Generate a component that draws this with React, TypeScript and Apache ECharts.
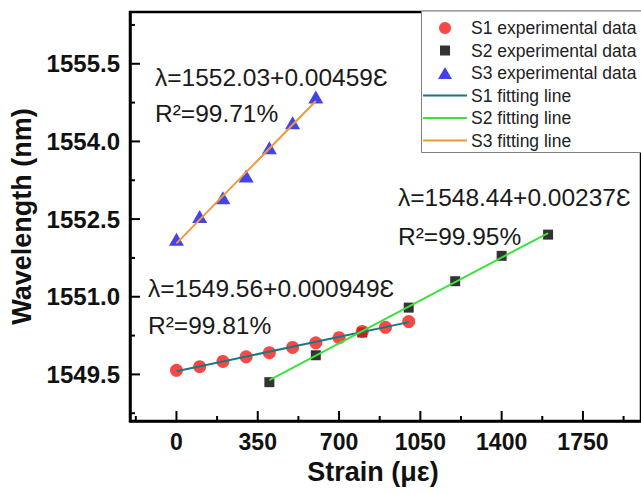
import React, { useEffect, useRef } from "react";
import * as echarts from "echarts";

// ---- data ----
const s1Strain = [0, 100, 200, 300, 400, 500, 600, 700, 800, 900, 1000];
const s1Wave = [1549.58, 1549.65, 1549.75, 1549.84, 1549.92, 1550.02, 1550.11, 1550.21, 1550.33, 1550.41, 1550.52];

const s2Strain = [400, 600, 800, 1000, 1200, 1400, 1600];
const s2Wave = [1549.35, 1549.87, 1550.31, 1550.79, 1551.30, 1551.79, 1552.20];

const s3Strain = [0, 100, 200, 300, 400, 500, 600];
const s3Wave = [1552.11, 1552.55, 1552.91, 1553.33, 1553.88, 1554.36, 1554.86];

const s1FitStrain = [0, 1000];
const s1FitWave = [1549.56, 1550.51];
const s2FitStrain = [400, 1600];
const s2FitWave = [1549.39, 1552.23];
const s3FitStrain = [0, 600];
const s3FitWave = [1552.03, 1554.78];

// tick labels / tick positions
const xTickLabels = [0, 350, 700, 1050, 1400, 1750];
const xMinorTicks = [-175, 175, 525, 875, 1225, 1575, 1925];
const yTickLabels = [1549.5, 1551.0, 1552.5, 1554.0, 1555.5];
const yMinorTicks = [1548.75, 1550.25, 1551.75, 1553.25, 1554.75, 1556.25];

const seriesNames = [
  "S1 experimental data",
  "S2 experimental data",
  "S3 experimental data",
  "S1 fitting line",
  "S2 fitting line",
  "S3 fitting line",
];

const annotations = [
  { text: "λ=1552.03+0.00459Ɛ", left: 155, top: 65 },
  { text: "R²=99.71%", left: 155, top: 101 },
  { text: "λ=1548.44+0.00237Ɛ", left: 398, top: 185 },
  { text: "R²=99.95%", left: 398, top: 224 },
  { text: "λ=1549.56+0.000949Ɛ", left: 148, top: 276 },
  { text: "R²=99.81%", left: 148, top: 313 },
];

const zip = (xs: number[], ys: number[]) => xs.map((x, i) => [x, ys[i]]);

const FONT = "Liberation Sans, Arial, sans-serif";
const X_MIN = -200;
const X_MAX = 2000;
const Y_MIN = 1548.6;
const Y_MAX = 1556.5;

export default function App() {
  const ref = useRef<HTMLDivElement>(null);

  useEffect(() => {
    const chart = echarts.init(ref.current!, null, { renderer: "svg" });

    const textEls = annotations.map((a) => ({
      type: "text",
      left: a.left,
      top: a.top,
      z: 10,
      style: { text: a.text, font: `24.5px ${FONT}`, fill: "#1a1a1a" },
    }));

    chart.setOption({
      animation: false,
      backgroundColor: "#ffffff",
      grid: {
        left: 130,
        top: 12,
        width: 518.8,
        height: 409,
        show: true,
        borderColor: "#000",
        borderWidth: 2.5,
      },
      xAxis: {
        type: "value",
        min: X_MIN,
        max: X_MAX,
        name: "Strain (με)",
        nameLocation: "middle",
        nameGap: 37,
        nameTextStyle: { fontFamily: FONT, fontWeight: "bold", fontSize: 27, color: "#111", padding: [0, 25, 0, 0] },
        axisLine: { show: true, onZero: false, lineStyle: { color: "#000", width: 2.5 } },
        axisTick: { show: false },
        axisLabel: {
          customValues: xTickLabels,
          margin: 9,
          fontFamily: FONT,
          fontWeight: "bold",
          fontSize: 23,
          color: "#111",
          formatter: (v: number) => String(v),
        },
        splitLine: { show: false },
      },
      yAxis: {
        type: "value",
        min: Y_MIN,
        max: Y_MAX,
        name: "Wavelength (nm)",
        nameLocation: "middle",
        nameGap: 92,
        nameTextStyle: { fontFamily: FONT, fontWeight: "bold", fontSize: 27, color: "#111" },
        axisLine: { show: true, onZero: false, lineStyle: { color: "#000", width: 2.5 } },
        axisTick: { show: false },
        axisLabel: {
          customValues: yTickLabels,
          margin: 10,
          fontFamily: FONT,
          fontWeight: "bold",
          fontSize: 24,
          color: "#111",
          formatter: (v: number) => v.toFixed(1),
        },
        splitLine: { show: false },
      },
      legend: {
        orient: "vertical",
        left: 421.5,
        top: 11,
        padding: [8, 40, 3, 1.5],
        borderColor: "#808080",
        borderWidth: 1,
        backgroundColor: "#fff",
        itemWidth: 44,
        itemHeight: 12,
        itemGap: 4.5,
        symbolKeepAspect: true,
        itemStyle: { borderWidth: 0 },
        textStyle: { fontFamily: FONT, fontSize: 17.5, color: "#222", padding: [0, 0, 0, -1] },
        data: [
          { name: seriesNames[0], icon: "circle" },
          { name: seriesNames[1], icon: "path://M-1,-1M0,0H10V10H0ZM11,11" },
          { name: seriesNames[2], icon: "path://M7,0L14,12L0,12Z" },
          { name: seriesNames[3], icon: "path://M0,0H44V2H0Z" },
          { name: seriesNames[4], icon: "path://M0,0H44V2H0Z" },
          { name: seriesNames[5], icon: "path://M0,0H44V2H0Z" },
        ],
      },
      graphic: textEls,
      series: [
        {
          name: seriesNames[1],
          type: "scatter",
          data: zip(s2Strain, s2Wave),
          symbol: "rect",
          symbolSize: 10,
          itemStyle: { color: "#000" },
        },
        {
          name: seriesNames[0],
          type: "scatter",
          data: zip(s1Strain, s1Wave),
          symbol: "circle",
          symbolSize: 13,
          itemStyle: { color: "#f51a1a" },
        },
        {
          name: seriesNames[2],
          type: "scatter",
          data: zip(s3Strain, s3Wave),
          symbol: "triangle",
          symbolSize: [15, 13],
          itemStyle: { color: "#1414e6" },
        },
        {
          name: seriesNames[3],
          type: "line",
          data: zip(s1FitStrain, s1FitWave),
          symbol: "none",
          color: "#167a80",
          lineStyle: { color: "#167a80", width: 2 },
        },
        {
          name: seriesNames[4],
          type: "line",
          data: zip(s2FitStrain, s2FitWave),
          symbol: "none",
          color: "#3ee03e",
          lineStyle: { color: "#3ee03e", width: 2 },
        },
        {
          name: seriesNames[5],
          type: "line",
          data: zip(s3FitStrain, s3FitWave),
          symbol: "none",
          color: "#ee9a3a",
          lineStyle: { color: "#ee9a3a", width: 2 },
        },
      ],
    });

    // inward tick marks, positioned through the chart's own axis scales
    const toPx = (x: number, y: number) => chart.convertToPixel({ gridIndex: 0 }, [x, y]) as number[];
    const tickEls: any[] = [];
    const addX = (values: number[], len: number) =>
      values.forEach((v) => {
        const p = toPx(v, Y_MIN);
        if (!p || !isFinite(p[0])) return;
        tickEls.push({
          type: "line",
          silent: true,
          z: 20,
          shape: { x1: p[0], y1: p[1], x2: p[0], y2: p[1] - len },
          style: { stroke: "#000", lineWidth: 2 },
        });
      });
    const addY = (values: number[], len: number) =>
      values.forEach((v) => {
        const p = toPx(X_MIN, v);
        if (!p || !isFinite(p[1])) return;
        tickEls.push({
          type: "line",
          silent: true,
          z: 20,
          shape: { x1: p[0], y1: p[1], x2: p[0] + len, y2: p[1] },
          style: { stroke: "#000", lineWidth: 2 },
        });
      });
    addX(xTickLabels, 10);
    addX(xMinorTicks, 5);
    addY(yTickLabels, 10);
    addY(yMinorTicks, 5);

    chart.setOption({ graphic: [...textEls, ...tickEls] });

    return () => chart.dispose();
  }, []);

  return (
    <div
      ref={ref}
      style={{ position: "absolute", left: 0, top: 0, width: 641, height: 494, overflow: "hidden" }}
    />
  );
}
